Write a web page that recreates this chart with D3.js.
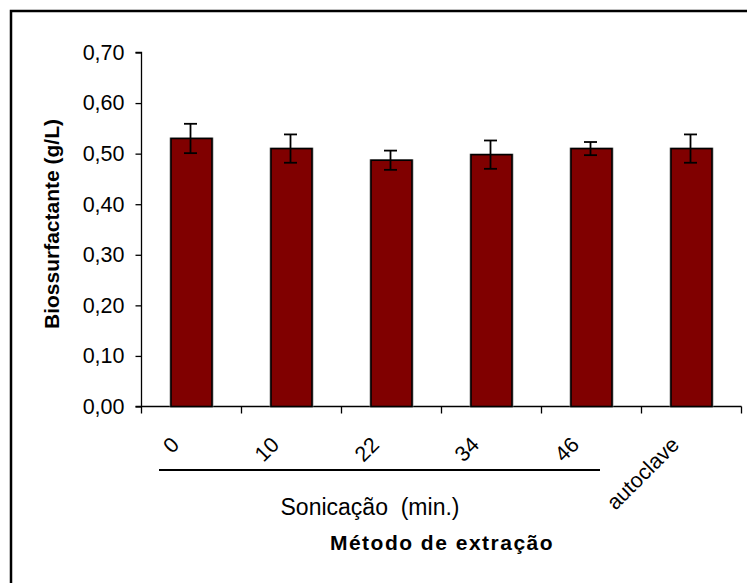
<!DOCTYPE html>
<html>
<head>
<meta charset="utf-8">
<script src="https://cdn.jsdelivr.net/npm/d3@7"></script>
<style>
  html, body { margin: 0; padding: 0; background: #fff; }
  svg { display: block; }
  text { font-family: "Liberation Sans", Arial, sans-serif; fill: #000; }
</style>
</head>
<body>
<svg id="chart" width="747" height="583"></svg>
<script>
const categories = ["0", "10", "22", "34", "46", "autoclave"];
const values = [0.530, 0.510, 0.487, 0.498, 0.510, 0.510];
const errors = [0.029, 0.028, 0.019, 0.028, 0.013, 0.028];
const yTicks = [0, 0.1, 0.2, 0.3, 0.4, 0.5, 0.6, 0.7];
const yTitle = "Biossurfactante (g/L)";
const groupLabel = "Sonicação  (min.)";
const xTitle = "Método de extração";

const svg = d3.select("#chart");

// outer frame
svg.append("rect")
  .attr("x", 11).attr("y", 11).attr("width", 800).attr("height", 700)
  .attr("fill", "none").attr("stroke", "#000").attr("stroke-width", 2.5);

const pLeft = 141.5, pRight = 741.5, pTop = 52.5, pBottom = 406.5;

const x = d3.scaleBand().domain(categories).range([pLeft, pRight])
  .paddingInner(0.59).paddingOuter(0.295);
const y = d3.scaleLinear().domain([0, 0.7]).range([pBottom, pTop]);

// y axis
const yAxis = d3.axisLeft(y).tickValues(yTicks).tickSize(6).tickPadding(11)
  .tickFormat(d => d3.format(".2f")(d).replace(".", ","));
const gy = svg.append("g").attr("transform", `translate(${pLeft},0)`).call(yAxis);
gy.select(".domain").attr("stroke", "#000").attr("stroke-width", 1.3).attr("d", `M-6,${pTop}H0V${pBottom}`);
gy.selectAll(".tick line").attr("stroke", "#000").attr("stroke-width", 1.3);
gy.selectAll(".tick text").style("font-size", "21.5px").style("font-family", "Liberation Sans, Arial, sans-serif").attr("fill", "#000");

// x axis line and ticks at category boundaries
svg.append("line").attr("x1", pLeft - 6).attr("x2", pRight)
  .attr("y1", pBottom).attr("y2", pBottom).attr("stroke", "#000").attr("stroke-width", 1.6);
const boundaries = categories.map(c => x(c) - x.step() * x.paddingOuter()).concat([pRight]);
svg.selectAll(".xtick").data(boundaries).join("line")
  .attr("x1", d => d).attr("x2", d => d)
  .attr("y1", pBottom).attr("y2", pBottom + 7)
  .attr("stroke", "#000").attr("stroke-width", 1.3);

// bars
const bars = svg.append("g");
bars.selectAll(".shadow").data(values).join("rect")
  .attr("x", (d, i) => x(categories[i]) - 1.5)
  .attr("y", d => y(d) - 1)
  .attr("width", x.bandwidth() + 3)
  .attr("height", d => pBottom - y(d) + 1)
  .attr("fill", "#a0a0a0");
bars.selectAll(".bar").data(values).join("rect")
  .attr("x", (d, i) => x(categories[i]))
  .attr("y", d => y(d))
  .attr("width", x.bandwidth())
  .attr("height", d => pBottom - y(d))
  .attr("fill", "#800000").attr("stroke", "#000").attr("stroke-width", 1.6);

// error bars
const eb = svg.append("g").attr("stroke", "#000").attr("stroke-width", 1.8);
values.forEach((v, i) => {
  const cx = x(categories[i]) + x.bandwidth() / 2 - 1;
  const y1 = y(v + errors[i]), y2 = y(v - errors[i]);
  eb.append("line").attr("x1", cx).attr("x2", cx).attr("y1", y1).attr("y2", y2);
  eb.append("line").attr("x1", cx - 6.5).attr("x2", cx + 6.5).attr("y1", y1).attr("y2", y1);
  eb.append("line").attr("x1", cx - 6.5).attr("x2", cx + 6.5).attr("y1", y2).attr("y2", y2);
});

// rotated category labels
svg.selectAll(".xlab").data(categories).join("text")
  .attr("transform", d => `translate(${x(d) + x.bandwidth() / 2 - 11},446) rotate(-45)`)
  .attr("text-anchor", "end")
  .style("font-size", "21.5px")
  .text(d => d);

// group line under sonication labels
svg.append("line").attr("x1", 159).attr("x2", 600).attr("y1", 470).attr("y2", 470)
  .attr("stroke", "#000").attr("stroke-width", 2);

svg.append("text").attr("x", 370).attr("y", 515).attr("text-anchor", "middle")
  .style("font-size", "23px").style("white-space", "pre").attr("xml:space", "preserve")
  .text(groupLabel);

svg.append("text").attr("x", 442).attr("y", 550).attr("text-anchor", "middle")
  .style("font-size", "21px").style("font-weight", "bold").style("letter-spacing", "1.5px")
  .text(xTitle);

svg.append("text").attr("transform", "translate(59,224) rotate(-90)")
  .attr("text-anchor", "middle")
  .style("font-size", "21px").style("font-weight", "bold")
  .text(yTitle);
</script>
</body>
</html>
